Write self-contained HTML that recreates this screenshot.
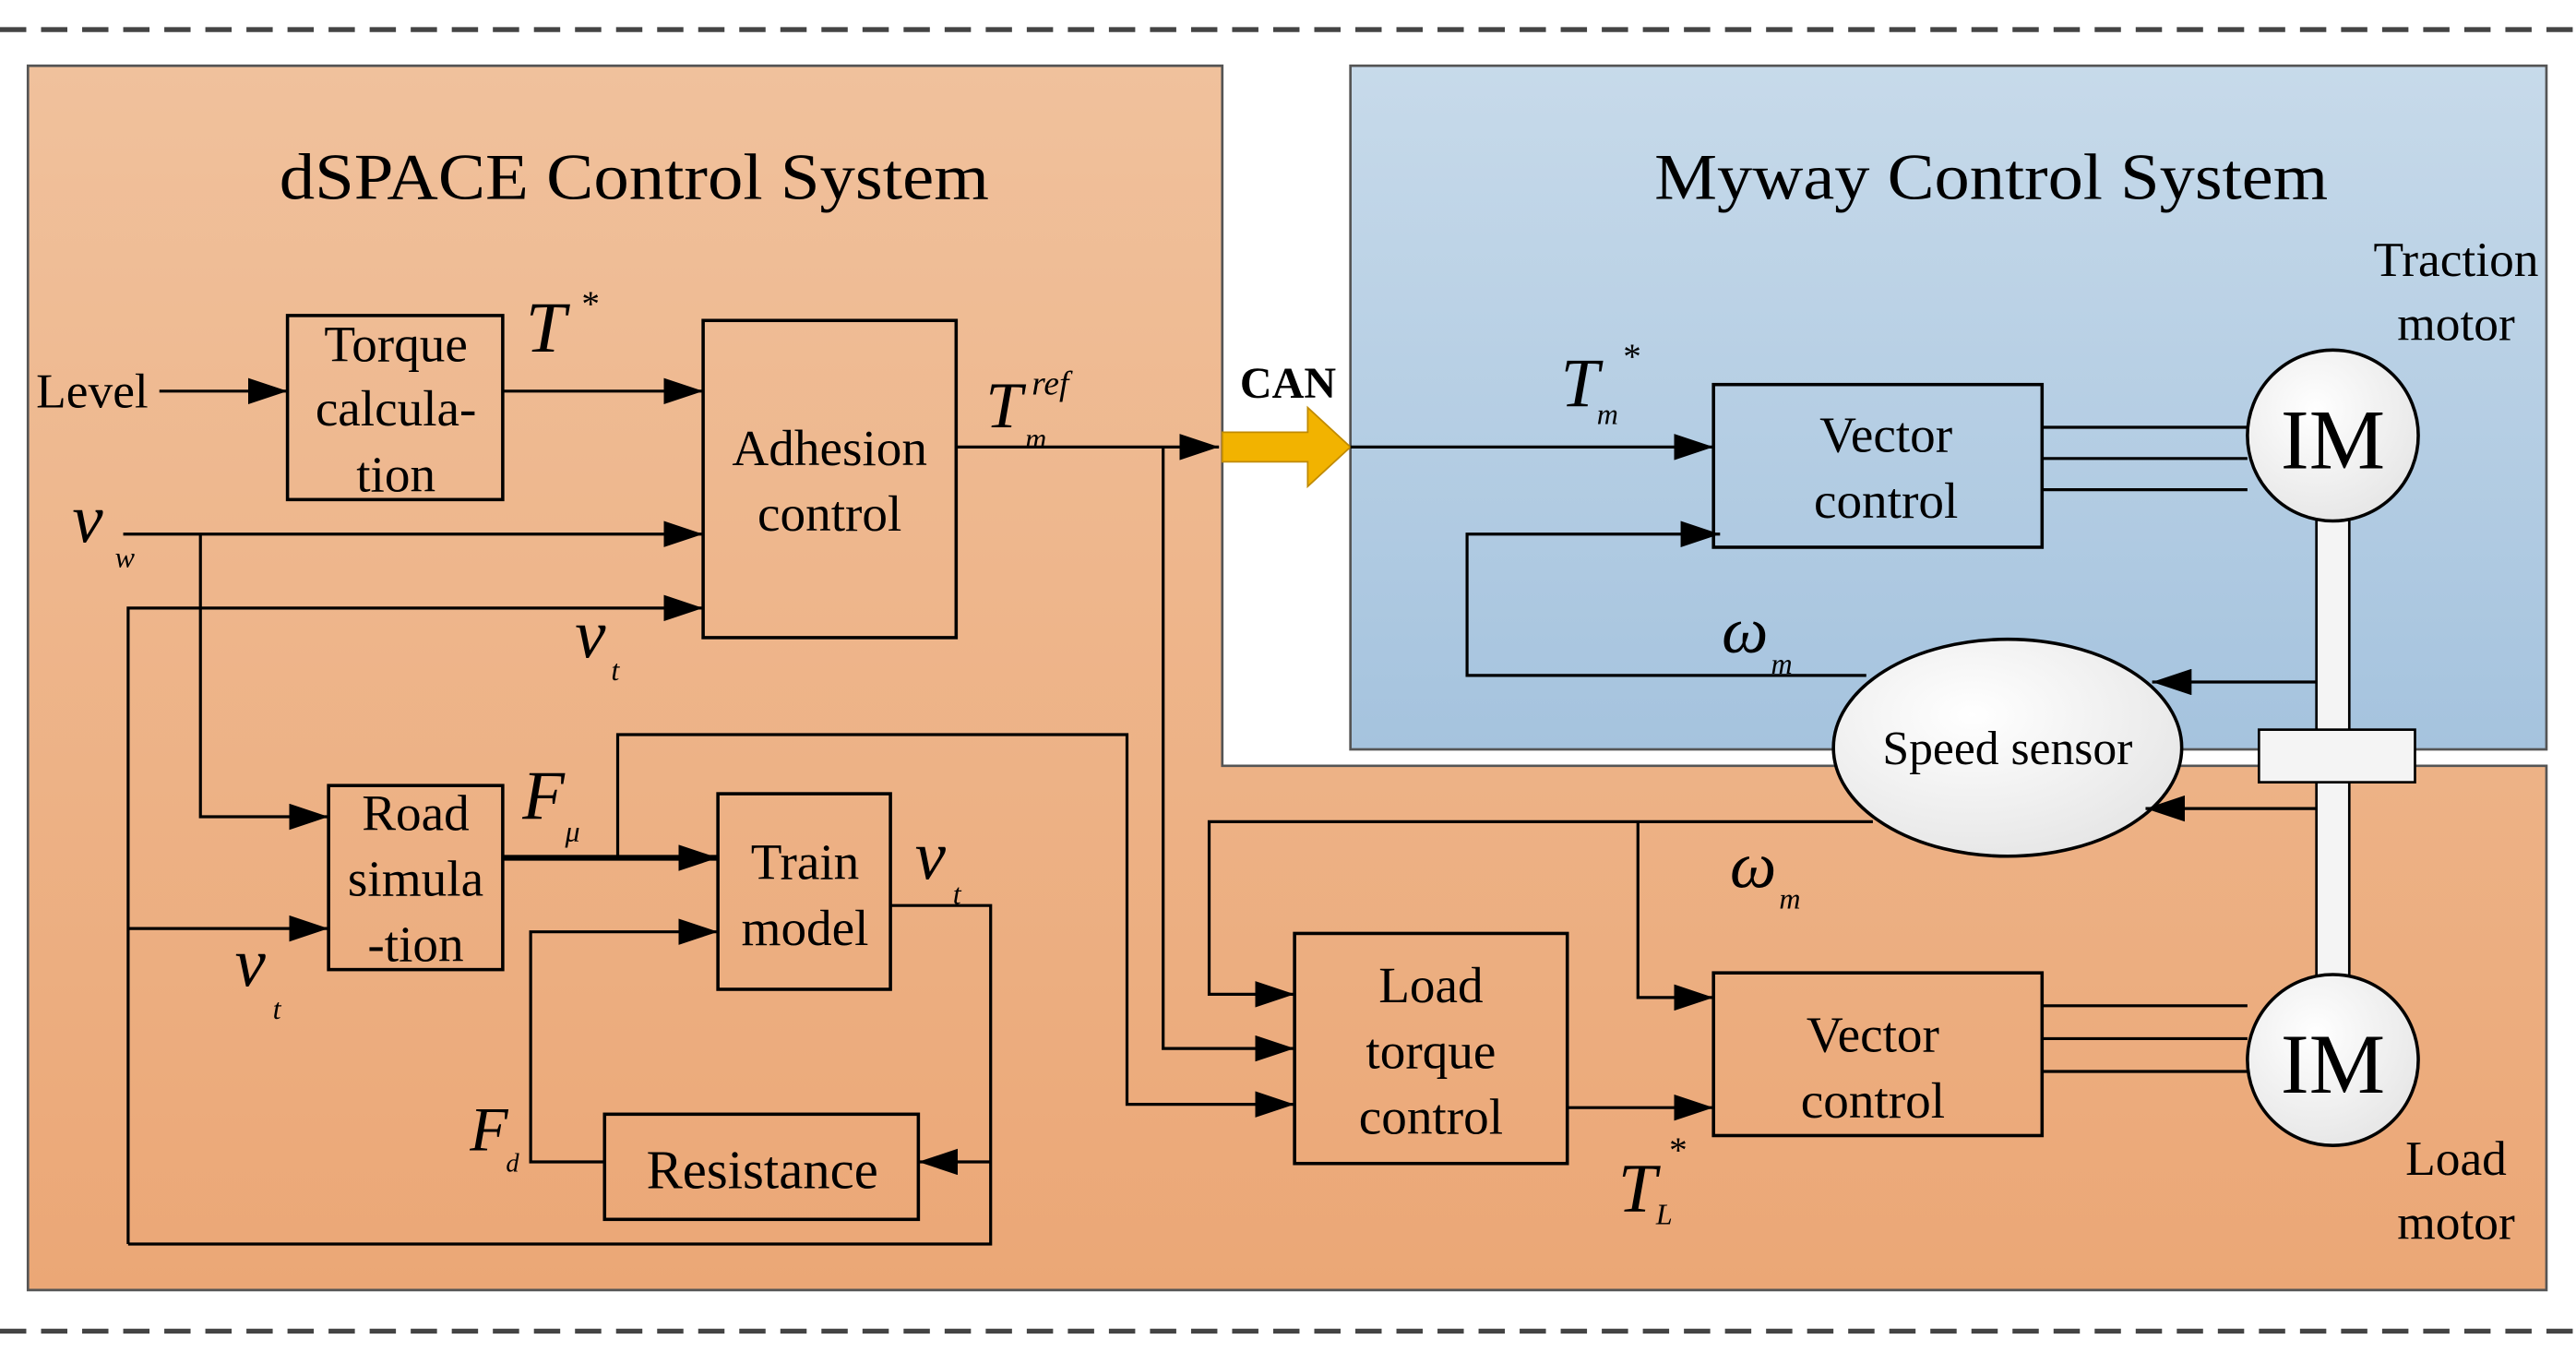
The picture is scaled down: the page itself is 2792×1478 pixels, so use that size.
<!DOCTYPE html>
<html><head><meta charset="utf-8"><style>
html,body{margin:0;padding:0;background:#fff}
svg{display:block}
text{font-family:"Liberation Serif",serif;fill:#000}
.b{fill:none;stroke:#000;stroke-width:2}
.l{fill:none;stroke:#000;stroke-width:1.8}
.i{font-style:italic}
</style></head><body>
<svg width="2792" height="1478" viewBox="0 0 1568 830" preserveAspectRatio="none" xmlns="http://www.w3.org/2000/svg">
<defs>
<linearGradient id="og" x1="0" y1="0" x2="0" y2="1"><stop offset="0" stop-color="#F0C19C"/><stop offset="1" stop-color="#EBA776"/></linearGradient>
<linearGradient id="bg" x1="0" y1="0" x2="0" y2="1"><stop offset="0" stop-color="#C7DAEA"/><stop offset="1" stop-color="#A5C3DE"/></linearGradient>
<radialGradient id="wg" cx="0.4" cy="0.35" r="0.8"><stop offset="0" stop-color="#ffffff"/><stop offset="1" stop-color="#e2e2e2"/></radialGradient>
<marker id="a" markerWidth="24" markerHeight="16" refX="24" refY="8" orient="auto" markerUnits="userSpaceOnUse"><path d="M0,0 L24,8 L0,16 z" fill="#000"/></marker>
</defs>
<line x1="0" y1="18" x2="1568" y2="18" stroke="#444" stroke-width="3" stroke-dasharray="16,9"/>
<line x1="0" y1="810" x2="1568" y2="810" stroke="#444" stroke-width="3" stroke-dasharray="16,9"/>
<path d="M17,40 H744 V466 H1550 V785 H17 Z" fill="url(#og)" stroke="#555" stroke-width="1.5"/>
<rect x="822" y="40" width="728" height="416" fill="url(#bg)" stroke="#555" stroke-width="1.5"/>
<text x="386" y="121" font-size="40" text-anchor="middle" textLength="432" lengthAdjust="spacingAndGlyphs">dSPACE Control System</text>
<text x="1212" y="121" font-size="40" text-anchor="middle" textLength="410" lengthAdjust="spacingAndGlyphs">Myway Control System</text>
<text x="1495" y="168" font-size="30" text-anchor="middle">Traction</text>
<text x="1495" y="207" font-size="30" text-anchor="middle">motor</text>
<text x="1495" y="715" font-size="30" text-anchor="middle">Load</text>
<text x="1495" y="754" font-size="30" text-anchor="middle">motor</text>
<rect class="b" x="175" y="192" width="131" height="112"/>
<text font-size="31" text-anchor="middle"><tspan x="241" y="220">Torque</tspan><tspan x="241" y="259">calcula-</tspan><tspan x="241" y="299">tion</tspan></text>
<rect class="b" x="428" y="195" width="154" height="193"/>
<text font-size="31" text-anchor="middle"><tspan x="505" y="283">Adhesion</tspan><tspan x="505" y="323">control</tspan></text>
<rect class="b" x="200" y="478" width="106" height="112"/>
<text font-size="31" text-anchor="middle"><tspan x="253" y="505">Road</tspan><tspan x="253" y="545">simula</tspan><tspan x="253" y="585">-tion</tspan></text>
<rect class="b" x="437" y="483" width="105" height="119"/>
<text font-size="31" text-anchor="middle"><tspan x="490" y="535">Train</tspan><tspan x="490" y="575">model</tspan></text>
<rect class="b" x="368" y="678" width="191" height="64"/>
<text x="464" y="723" font-size="33" text-anchor="middle">Resistance</text>
<rect class="b" x="788" y="568" width="166" height="140"/>
<text font-size="31" text-anchor="middle"><tspan x="871" y="610">Load</tspan><tspan x="871" y="650">torque</tspan><tspan x="871" y="690">control</tspan></text>
<rect class="b" x="1043" y="234" width="200" height="99"/>
<text font-size="31" text-anchor="middle"><tspan x="1148" y="275">Vector</tspan><tspan x="1148" y="315">control</tspan></text>
<rect class="b" x="1043" y="592" width="200" height="99"/>
<text font-size="31" text-anchor="middle"><tspan x="1140" y="640">Vector</tspan><tspan x="1140" y="680">control</tspan></text>
<rect x="1410" y="315" width="20" height="280" fill="#f4f4f4" stroke="#000" stroke-width="1.5"/>
<rect x="1375" y="444" width="95" height="32" fill="#f4f4f4" stroke="#000" stroke-width="1.5"/>
<ellipse cx="1420" cy="265" rx="52" ry="52" fill="url(#wg)" stroke="#000" stroke-width="2"/>
<text x="1420" y="285" font-size="52" text-anchor="middle">IM</text>
<ellipse cx="1420" cy="645" rx="52" ry="52" fill="url(#wg)" stroke="#000" stroke-width="2"/>
<text x="1420" y="665" font-size="52" text-anchor="middle">IM</text>
<ellipse cx="1222" cy="455" rx="106" ry="66" fill="url(#wg)" stroke="#000" stroke-width="2"/>
<text x="1222" y="465" font-size="29" text-anchor="middle">Speed sensor</text>
<path class="l" d="M1243,260H1368M1243,279H1368M1243,298H1368M1243,612H1368M1243,632H1368M1243,652H1368"/>
<path d="M744,263 H796 V248 L822,272 L796,296 V281 H744 Z" fill="#F2B300" stroke="#C08a00" stroke-width="1"/>
<text x="784" y="242" font-size="27" font-weight="bold" text-anchor="middle">CAN</text>
<text x="22" y="248" font-size="30">Level</text>
<path class="l" d="M97,238H175" marker-end="url(#a)"/>
<path class="l" d="M306,238H428" marker-end="url(#a)"/>
<text x="320" y="214" font-size="44" class="i">T</text><text x="354" y="192" font-size="22">*</text>
<path class="l" d="M582,272H742" marker-end="url(#a)"/>
<text x="600" y="260" font-size="40" class="i">T</text><text x="628" y="240" font-size="21" class="i">ref</text><text x="624" y="273" font-size="18" class="i">m</text>
<path class="l" d="M708,272V638H788" marker-end="url(#a)"/>
<text x="44" y="330" font-size="42" class="i">v</text><text x="70" y="345" font-size="18" class="i">w</text>
<path class="l" d="M75,325H428" marker-end="url(#a)"/>
<path class="l" d="M122,325V497H200" marker-end="url(#a)"/>
<path class="l" d="M78,757V370H428" marker-end="url(#a)"/>
<text x="350" y="400" font-size="42" class="i">v</text><text x="372" y="414" font-size="18" class="i">t</text>
<path class="l" d="M78,565H200" marker-end="url(#a)"/>
<text x="143" y="600" font-size="42" class="i">v</text><text x="166" y="620" font-size="18" class="i">t</text>
<path d="M306,522H437" fill="none" stroke="#000" stroke-width="3.5" marker-end="url(#a)"/>
<text x="318" y="498" font-size="42" class="i">F</text><text x="344" y="512" font-size="18" class="i">μ</text>
<path class="l" d="M376,522V447H686V672H788" marker-end="url(#a)"/>
<path class="l" d="M542,551H603V757H78"/>
<path class="l" d="M603,707H559" marker-end="url(#a)"/>
<text x="557" y="535" font-size="42" class="i">v</text><text x="580" y="550" font-size="18" class="i">t</text>
<path class="l" d="M368,707H323V567H437" marker-end="url(#a)"/>
<text x="286" y="700" font-size="38" class="i">F</text><text x="308" y="713" font-size="16" class="i">d</text>
<path class="l" d="M954,674H1043" marker-end="url(#a)"/>
<text x="985" y="737" font-size="42" class="i">T</text><text x="1016" y="707" font-size="22">*</text><text x="1008" y="745" font-size="18" class="i">L</text>
<path class="l" d="M822,272H1043" marker-end="url(#a)"/>
<text x="950" y="247" font-size="42" class="i">T</text><text x="988" y="224" font-size="22">*</text><text x="972" y="258" font-size="18" class="i">m</text>
<path class="l" d="M1136,411H893V325H1047" marker-end="url(#a)"/>
<text x="1048" y="397" font-size="40" class="i">ω</text><text x="1078" y="410" font-size="18" class="i">m</text>
<path class="l" d="M1410,415H1310" marker-end="url(#a)"/>
<path class="l" d="M1410,492H1306" marker-end="url(#a)"/>
<path class="l" d="M1140,500H736V605H788" marker-end="url(#a)"/>
<path class="l" d="M997,500V607H1043" marker-end="url(#a)"/>
<text x="1053" y="540" font-size="40" class="i">ω</text><text x="1083" y="553" font-size="18" class="i">m</text>
</svg>
</body></html>
